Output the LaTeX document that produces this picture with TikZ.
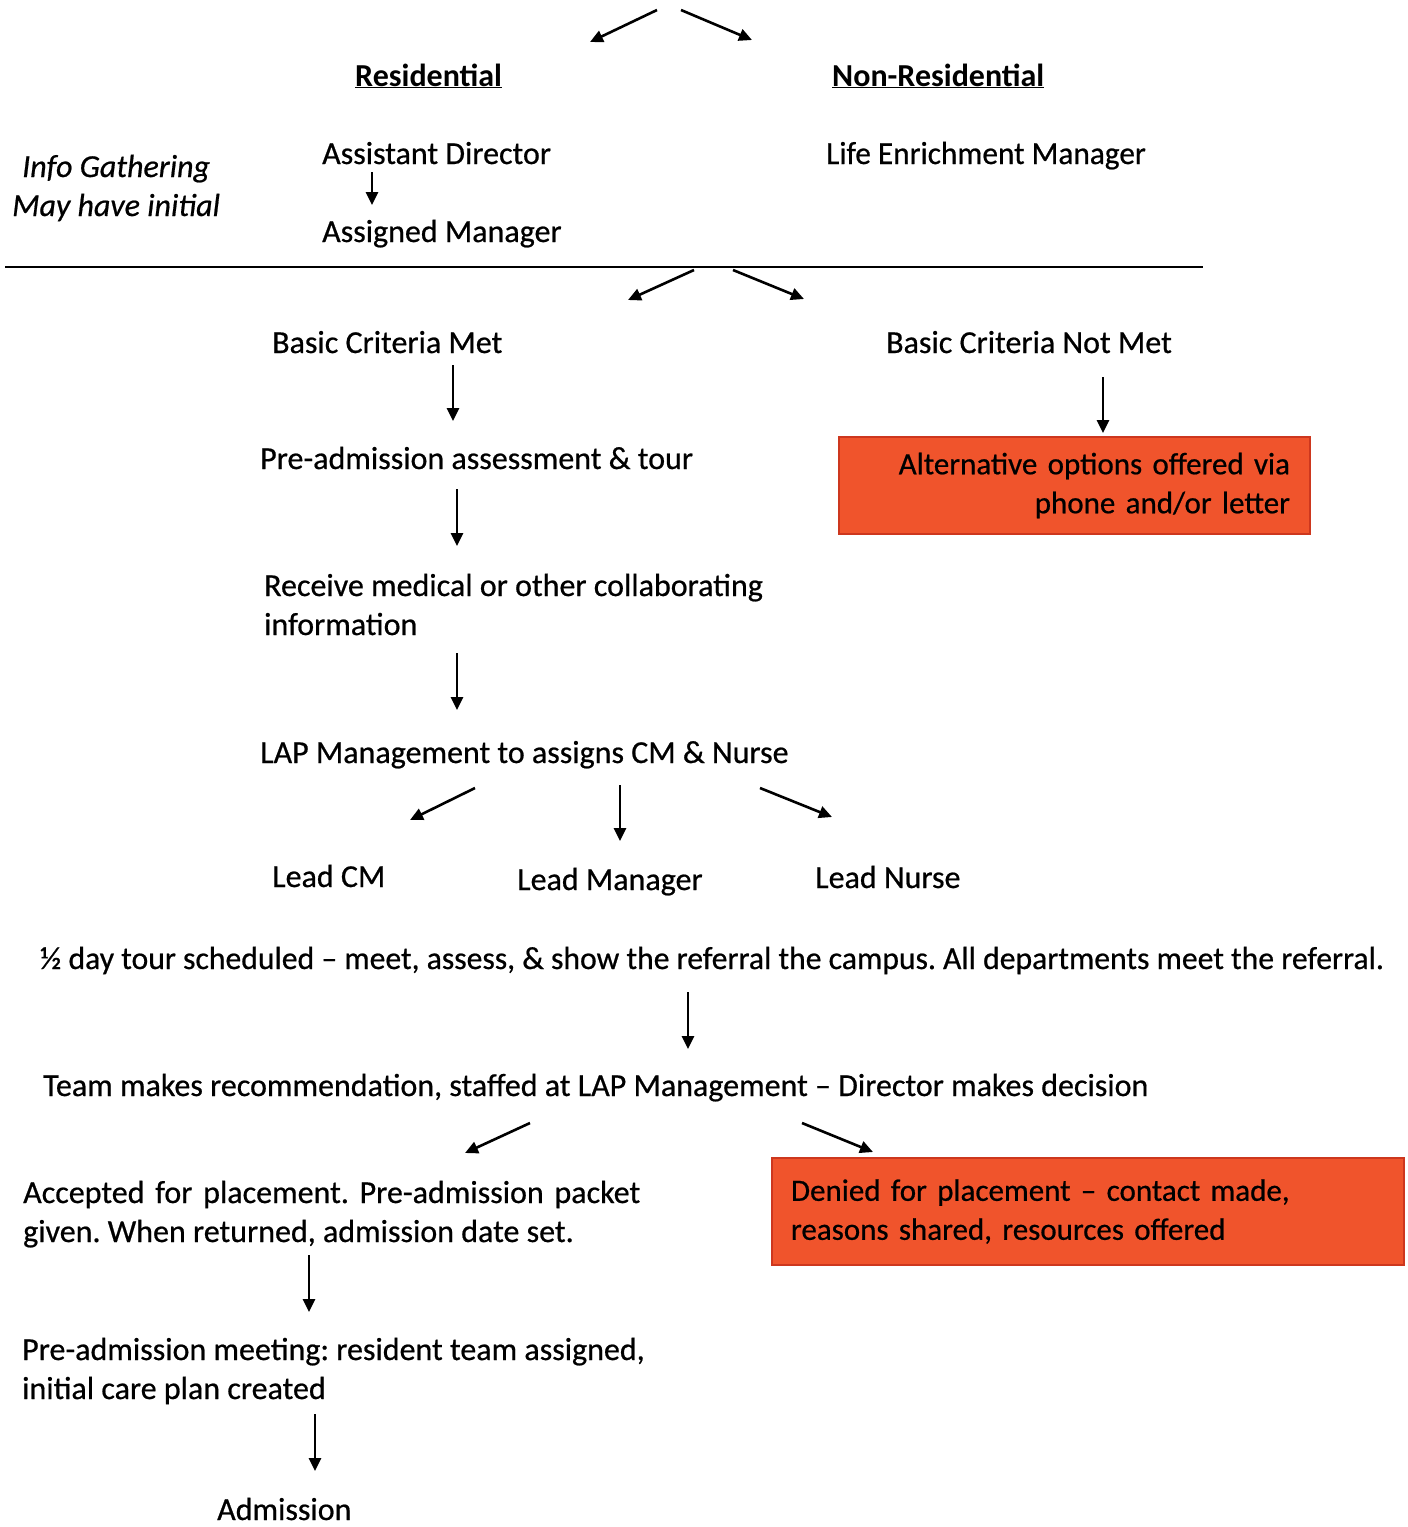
\documentclass[tikz,border=0pt]{standalone}
\usepackage{fontspec}
\setmainfont{Carlito}[UprightFeatures={FakeBold=0.6},ItalicFeatures={FakeBold=0.6}]
\usetikzlibrary{arrows.meta}
\definecolor{boxfill}{RGB}{240,84,44}
\definecolor{boxline}{RGB}{205,55,30}
\frenchspacing
\begin{document}
\begin{tikzpicture}[x=1pt,y=-1pt,
 txt/.style={anchor=base west, inner sep=0pt, font=\fontsize{32}{39}\selectfont},
 arr/.style={-{Triangle[length=13pt,width=12pt]}, line width=2.6pt},
 redbox/.style={draw=boxline, line width=1.5pt, fill=boxfill, inner xsep=0pt, inner ysep=0pt, font=\fontsize{31}{39}\selectfont}]
\useasboundingbox (0,0) rectangle (1408,1527);
% texts
\node[txt] (res) at (355,86) {\underline{\textbf{Residential}}};
\node[txt] (nonres) at (832,86) {\underline{\textbf{Non-Residential}}};
\node[txt] (info1) at (22,177) {\textit{Info Gathering}};
\node[txt] (info2) at (12,216) {\textit{May have initial}};
\node[txt] (ad) at (322,164) {Assistant Director};
\node[txt] (am) at (322,242) {Assigned Manager};
\node[txt] (lem) at (826,164) {\scalebox{0.978}[1]{Life Enrichment Manager}};
\node[txt] (bcm) at (272,353) {Basic Criteria Met};
\node[txt] (bcnm) at (886,353) {Basic Criteria Not Met};
\node[redbox, minimum width=471pt, minimum height=97pt, text width=431pt, align=right] (alt) at (1074.5,485.5) {Alternative options offered via\\phone and/or letter};
\node[txt] (pre) at (260,469) {Pre-admission assessment \& tour};
\node[txt] (recv1) at (264,596) {Receive medical or other collaborating};
\node[txt] (recv2) at (264,635) {information};
\node[txt] (lap) at (260,763) {LAP Management to assigns CM \& Nurse};
\node[txt] (lcm) at (272,887) {Lead CM};
\node[txt] (lman) at (517,890) {Lead Manager};
\node[txt] (lnur) at (815,888) {Lead Nurse};
\node[txt, anchor=base] (tour) at (712,969) {\scalebox{0.99}[1]{½ day tour scheduled – meet, assess, \& show the referral the campus. All departments meet the referral.}};
\node[txt] (team) at (43,1096) {Team makes recommendation, staffed at LAP Management – Director makes decision};
\node[txt] (acc1) at (23,1203) {\makebox[617pt][s]{Accepted for placement. Pre-admission packet}};
\node[txt] (acc2) at (23,1242) {given. When returned, admission date set.};
\node[redbox, minimum width=632pt, minimum height=107pt, text width=594pt, align=left] (den) at (1088,1211.5) {Denied for placement – contact made,\\reasons shared, resources offered};
\node[txt] (meet1) at (22,1360) {Pre-admission meeting: resident team assigned,};
\node[txt] (meet2) at (22,1399) {initial care plan created};
\node[txt] (adm) at (217,1520) {Admission};
% divider
\coordinate (hl1) at (5,267); \coordinate (hl2) at (1203,267);
\draw[line width=2.4pt] (hl1) -- (hl2);
% arrow coordinates
\coordinate (t1) at (657,10); \coordinate (t1e) at (590,42);
\coordinate (t2) at (681,10); \coordinate (t2e) at (752,40);
\coordinate (r1) at (372,172); \coordinate (r1e) at (372,205);
\coordinate (d1) at (694,270); \coordinate (d1e) at (628,300);
\coordinate (d2) at (733,270); \coordinate (d2e) at (804,299);
\coordinate (m1) at (453,365); \coordinate (m1e) at (453,421);
\coordinate (n1) at (1103,377); \coordinate (n1e) at (1103,433);
\coordinate (m2) at (457,489); \coordinate (m2e) at (457,546);
\coordinate (m3) at (457,653); \coordinate (m3e) at (457,710);
\coordinate (l1) at (475,788); \coordinate (l1e) at (410,820);
\coordinate (l2) at (620,785); \coordinate (l2e) at (620,841);
\coordinate (l3) at (760,788); \coordinate (l3e) at (832,817);
\coordinate (h1) at (688,992); \coordinate (h1e) at (688,1049);
\coordinate (e1) at (530,1123); \coordinate (e1e) at (465,1153);
\coordinate (e2) at (802,1123); \coordinate (e2e) at (873,1152);
\coordinate (p1) at (309,1255); \coordinate (p1e) at (309,1312);
\coordinate (p2) at (315,1414); \coordinate (p2e) at (315,1471);
\foreach \a in {t1,t2,r1,d1,d2,m1,n1,m2,m3,l1,l2,l3,h1,e1,e2,p1,p2}
  \draw[arr] (\a) -- (\a e);
\end{tikzpicture}
\end{document}
